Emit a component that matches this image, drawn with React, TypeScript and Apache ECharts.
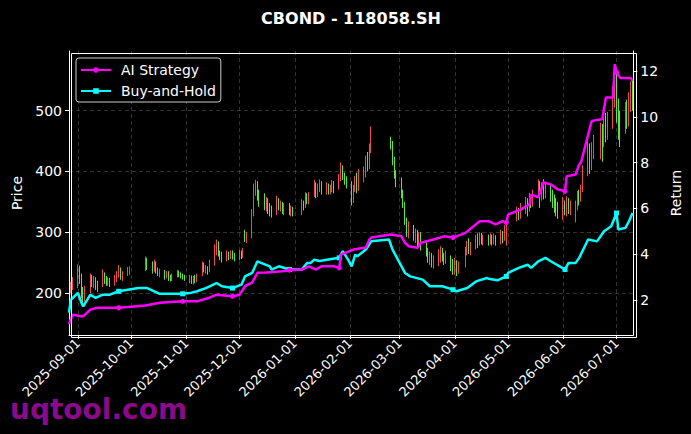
import React, { useEffect, useRef } from 'react';
import * as echarts from 'echarts';

// [date, open, close, low, high]
const candlesAugSep = [
  ['2025-08-28', 205, 212, 200, 218], ['2025-08-29', 212, 220, 205, 226],
  ['2025-09-01', 215, 240, 208, 247], ['2025-09-02', 238, 222, 215, 245], ['2025-09-03', 222, 198, 192, 232],
  ['2025-09-04', 200, 190, 184, 210], ['2025-09-05', 190, 205, 186, 212], ['2025-09-08', 205, 226, 200, 232],
  ['2025-09-09', 226, 218, 210, 230], ['2025-09-10', 216, 224, 208, 228], ['2025-09-11', 222, 214, 205, 226],
  ['2025-09-12', 214, 210, 202, 220], ['2025-09-15', 212, 232, 210, 239], ['2025-09-16', 230, 222, 215, 234],
  ['2025-09-17', 222, 218, 212, 228], ['2025-09-18', 218, 222, 212, 226], ['2025-09-19', 222, 214, 210, 225],
  ['2025-09-22', 214, 224, 212, 230], ['2025-09-23', 222, 230, 218, 236], ['2025-09-24', 230, 240, 225, 246],
  ['2025-09-25', 238, 228, 222, 242], ['2025-09-26', 228, 232, 220, 236], ['2025-09-29', 230, 238, 228, 243],
  ['2025-09-30', 236, 240, 230, 244],
];
const candlesOct = [
  ['2025-10-09', 240, 256, 236, 260], ['2025-10-10', 254, 244, 238, 258], ['2025-10-13', 246, 240, 232, 252],
  ['2025-10-14', 240, 250, 235, 255], ['2025-10-15', 248, 238, 232, 252], ['2025-10-16', 238, 232, 228, 242],
  ['2025-10-17', 232, 236, 226, 240], ['2025-10-20', 234, 228, 222, 238], ['2025-10-21', 228, 232, 224, 236],
  ['2025-10-22', 232, 226, 220, 236], ['2025-10-23', 226, 224, 219, 230], ['2025-10-24', 224, 228, 220, 232],
  ['2025-10-27', 228, 234, 226, 238], ['2025-10-28', 234, 230, 226, 237], ['2025-10-29', 230, 228, 224, 234],
  ['2025-10-30', 228, 226, 222, 232], ['2025-10-31', 226, 224, 220, 230],
];
const candlesNov = [
  ['2025-11-03', 222, 226, 216, 230], ['2025-11-04', 226, 220, 215, 229], ['2025-11-05', 220, 224, 214, 228],
  ['2025-11-06', 224, 222, 216, 230], ['2025-11-07', 222, 228, 218, 232], ['2025-11-10', 230, 246, 228, 252],
  ['2025-11-11', 246, 238, 234, 250], ['2025-11-12', 238, 240, 232, 246], ['2025-11-13', 240, 236, 230, 244],
  ['2025-11-14', 236, 250, 234, 255], ['2025-11-17', 250, 272, 245, 280], ['2025-11-18', 270, 284, 262, 288],
  ['2025-11-19', 282, 266, 260, 285], ['2025-11-20', 266, 262, 254, 270], ['2025-11-21', 262, 258, 250, 268],
  ['2025-11-24', 256, 264, 252, 270], ['2025-11-25', 264, 260, 254, 268], ['2025-11-26', 260, 266, 256, 270],
  ['2025-11-27', 266, 262, 255, 270], ['2025-11-28', 262, 258, 252, 266],
];
const candlesDec = [
  ['2025-12-01', 256, 266, 254, 271], ['2025-12-02', 264, 262, 256, 270], ['2025-12-03', 262, 270, 258, 274],
  ['2025-12-04', 302, 288, 284, 304], ['2025-12-05', 288, 296, 282, 300], ['2025-12-08', 296, 330, 290, 338],
  ['2025-12-09', 330, 372, 326, 380], ['2025-12-10', 370, 382, 360, 386], ['2025-12-11', 380, 362, 352, 384],
  ['2025-12-12', 362, 350, 342, 370], ['2025-12-15', 352, 344, 336, 364], ['2025-12-16', 344, 350, 334, 358],
  ['2025-12-17', 350, 340, 330, 356], ['2025-12-18', 340, 336, 326, 348], ['2025-12-19', 336, 332, 324, 344],
  ['2025-12-22', 332, 352, 328, 360], ['2025-12-23', 350, 344, 336, 356], ['2025-12-24', 344, 346, 334, 352],
  ['2025-12-25', 346, 338, 330, 350], ['2025-12-26', 338, 342, 328, 348], ['2025-12-29', 342, 336, 328, 348],
  ['2025-12-30', 336, 338, 326, 344], ['2025-12-31', 338, 334, 326, 342],
];
const candlesJan = [
  ['2026-01-05', 334, 348, 328, 354], ['2026-01-06', 348, 344, 336, 352], ['2026-01-07', 344, 358, 340, 366],
  ['2026-01-08', 358, 352, 346, 364], ['2026-01-09', 352, 360, 346, 366], ['2026-01-12', 362, 378, 358, 386],
  ['2026-01-13', 378, 366, 356, 382], ['2026-01-14', 366, 374, 358, 380], ['2026-01-15', 374, 380, 366, 387],
  ['2026-01-16', 380, 370, 362, 384], ['2026-01-19', 370, 376, 362, 382], ['2026-01-20', 376, 368, 362, 380],
  ['2026-01-21', 368, 372, 362, 378], ['2026-01-22', 372, 380, 366, 386], ['2026-01-23', 380, 370, 364, 384],
  ['2026-01-26', 372, 390, 370, 396], ['2026-01-27', 390, 408, 384, 415], ['2026-01-28', 406, 394, 386, 410],
  ['2026-01-29', 394, 388, 378, 398], ['2026-01-30', 388, 380, 372, 392],
];
const candlesFeb = [
  ['2026-02-02', 380, 352, 344, 384], ['2026-02-03', 352, 370, 348, 378], ['2026-02-04', 370, 384, 366, 392],
  ['2026-02-05', 384, 372, 364, 398], ['2026-02-06', 372, 392, 368, 404], ['2026-02-09', 392, 396, 382, 408],
  ['2026-02-10', 396, 420, 390, 426], ['2026-02-11', 420, 410, 400, 432], ['2026-02-12', 410, 438, 404, 446],
  ['2026-02-13', 436, 460, 430, 474], ['2026-02-24', 452, 444, 436, 457], ['2026-02-25', 444, 420, 410, 450],
  ['2026-02-26', 420, 396, 388, 424], ['2026-02-27', 396, 386, 374, 402],
];
const candlesMar = [
  ['2026-03-02', 384, 364, 356, 390], ['2026-03-03', 364, 348, 340, 370], ['2026-03-04', 346, 320, 312, 350],
  ['2026-03-05', 320, 300, 292, 324], ['2026-03-06', 300, 310, 290, 318], ['2026-03-09', 308, 296, 286, 312],
  ['2026-03-10', 296, 302, 282, 306], ['2026-03-11', 302, 290, 272, 304], ['2026-03-12', 290, 296, 276, 300],
  ['2026-03-13', 296, 284, 270, 300], ['2026-03-16', 282, 268, 260, 286], ['2026-03-17', 268, 258, 250, 274],
  ['2026-03-18', 258, 262, 246, 268], ['2026-03-19', 262, 250, 242, 266], ['2026-03-20', 250, 256, 240, 262],
  ['2026-03-23', 256, 262, 244, 272], ['2026-03-24', 262, 270, 250, 277], ['2026-03-25', 270, 260, 252, 274],
  ['2026-03-26', 260, 256, 246, 266], ['2026-03-27', 256, 262, 248, 270], ['2026-03-30', 260, 248, 236, 262],
  ['2026-03-31', 248, 240, 230, 256],
];
const candlesApr = [
  ['2026-04-01', 240, 252, 230, 258], ['2026-04-02', 250, 240, 228, 254], ['2026-04-03', 240, 246, 232, 252],
  ['2026-04-07', 246, 270, 242, 276], ['2026-04-08', 270, 280, 262, 286], ['2026-04-09', 280, 270, 264, 290],
  ['2026-04-10', 270, 278, 262, 284], ['2026-04-13', 278, 290, 272, 296], ['2026-04-14', 290, 282, 274, 298],
  ['2026-04-15', 282, 294, 278, 300], ['2026-04-16', 294, 286, 280, 299], ['2026-04-17', 286, 292, 278, 296],
  ['2026-04-20', 290, 284, 278, 296], ['2026-04-21', 284, 292, 280, 298], ['2026-04-22', 292, 286, 278, 296],
  ['2026-04-23', 286, 290, 280, 298], ['2026-04-24', 290, 284, 278, 295], ['2026-04-27', 286, 296, 280, 304],
  ['2026-04-28', 296, 290, 282, 302], ['2026-04-29', 290, 306, 286, 312], ['2026-04-30', 300, 314, 278, 320],
];
const candlesMay = [
  ['2026-05-06', 320, 334, 318, 342], ['2026-05-07', 334, 328, 320, 340], ['2026-05-08', 328, 340, 322, 348],
  ['2026-05-11', 340, 350, 330, 358], ['2026-05-12', 350, 338, 326, 356], ['2026-05-13', 338, 356, 334, 365],
  ['2026-05-14', 356, 348, 340, 362], ['2026-05-15', 348, 362, 342, 370], ['2026-05-18', 364, 380, 358, 387],
  ['2026-05-19', 380, 360, 340, 384], ['2026-05-20', 360, 372, 352, 382], ['2026-05-21', 372, 364, 354, 387],
  ['2026-05-22', 364, 372, 356, 380], ['2026-05-25', 372, 362, 350, 378], ['2026-05-26', 362, 356, 340, 370],
  ['2026-05-27', 356, 348, 332, 362], ['2026-05-28', 348, 340, 326, 356], ['2026-05-29', 340, 336, 322, 350],
];
const candlesJun = [
  ['2026-06-01', 334, 350, 320, 358], ['2026-06-02', 348, 340, 328, 352], ['2026-06-03', 340, 356, 326, 359],
  ['2026-06-04', 350, 340, 330, 356], ['2026-06-05', 340, 344, 328, 352], ['2026-06-08', 334, 348, 316, 352],
  ['2026-06-09', 348, 362, 336, 368], ['2026-06-10', 362, 356, 344, 370], ['2026-06-11', 356, 374, 350, 378],
  ['2026-06-12', 374, 400, 366, 410], ['2026-06-15', 400, 440, 392, 456], ['2026-06-16', 440, 410, 396, 446],
  ['2026-06-17', 410, 434, 402, 448], ['2026-06-18', 434, 452, 420, 460], ['2026-06-22', 450, 470, 420, 480],
  ['2026-06-23', 470, 450, 416, 478], ['2026-06-24', 450, 478, 440, 490], ['2026-06-25', 478, 460, 448, 496],
  ['2026-06-26', 460, 488, 452, 498], ['2026-06-29', 488, 520, 470, 540], ['2026-06-30', 520, 545, 505, 575],
];
const candlesJul = [
  ['2026-07-01', 545, 510, 480, 560], ['2026-07-02', 510, 490, 452, 520], ['2026-07-03', 490, 470, 440, 500],
  ['2026-07-06', 470, 500, 462, 514], ['2026-07-07', 500, 482, 470, 518], ['2026-07-08', 482, 512, 474, 530],
  ['2026-07-09', 512, 530, 498, 548], ['2026-07-10', 530, 516, 500, 552],
];

const aiStrategy = [
  ['2025-08-27', 0.95], ['2025-08-29', 1.36], ['2025-09-02', 1.30], ['2025-09-04', 1.28], ['2025-09-08', 1.58],
  ['2025-09-12', 1.66], ['2025-09-24', 1.66], ['2025-10-09', 1.76], ['2025-10-17', 1.88], ['2025-10-30', 1.94],
  ['2025-11-07', 1.94], ['2025-11-14', 2.10], ['2025-11-18', 2.23], ['2025-11-27', 2.16], ['2025-12-01', 2.23],
  ['2025-12-04', 2.60], ['2025-12-08', 2.76], ['2025-12-11', 3.19], ['2025-12-16', 3.20], ['2025-12-25', 3.25],
  ['2025-12-29', 3.30], ['2026-01-05', 3.33], ['2026-01-09', 3.47], ['2026-01-13', 3.33], ['2026-01-16', 3.47],
  ['2026-01-23', 3.47], ['2026-01-26', 3.40], ['2026-01-27', 3.98], ['2026-02-03', 4.20], ['2026-02-10', 4.29],
  ['2026-02-12', 4.64], ['2026-02-13', 4.73], ['2026-02-24', 4.86], ['2026-03-02', 4.78], ['2026-03-04', 4.50],
  ['2026-03-06', 4.35], ['2026-03-11', 4.28], ['2026-03-13', 4.50], ['2026-03-20', 4.64], ['2026-03-26', 4.78],
  ['2026-03-31', 4.73], ['2026-04-02', 4.78], ['2026-04-07', 4.93], ['2026-04-15', 5.44], ['2026-04-20', 5.44],
  ['2026-04-24', 5.30], ['2026-04-28', 5.44], ['2026-04-30', 5.38], ['2026-05-01', 5.73], ['2026-05-08', 5.95],
  ['2026-05-13', 6.17], ['2026-05-14', 6.60], ['2026-05-18', 6.48], ['2026-05-21', 7.13], ['2026-05-25', 7.05],
  ['2026-05-29', 6.83], ['2026-06-02', 6.75], ['2026-06-03', 7.41], ['2026-06-08', 7.48], ['2026-06-10', 7.92],
  ['2026-06-11', 8.00], ['2026-06-17', 9.82], ['2026-06-23', 9.90], ['2026-06-25', 10.84], ['2026-06-29', 10.84],
  ['2026-06-30', 12.30], ['2026-07-01', 11.95], ['2026-07-03', 11.70], ['2026-07-09', 11.70], ['2026-07-10', 11.57],
];
const buyAndHold = [
  ['2025-08-27', 1.44], ['2025-08-28', 2.00], ['2025-09-01', 2.31], ['2025-09-03', 1.88], ['2025-09-04', 1.72],
  ['2025-09-08', 2.23], ['2025-09-11', 2.09], ['2025-09-15', 2.23], ['2025-09-19', 2.23], ['2025-09-24', 2.38],
  ['2025-10-05', 2.52], ['2025-10-10', 2.52], ['2025-10-14', 2.38], ['2025-10-17', 2.27], ['2025-10-30', 2.27],
  ['2025-11-03', 2.30], ['2025-11-07', 2.38], ['2025-11-12', 2.52], ['2025-11-18', 2.74], ['2025-11-21', 2.60],
  ['2025-11-27', 2.52], ['2025-12-02', 2.67], ['2025-12-04', 3.03], ['2025-12-08', 3.18], ['2025-12-11', 3.69],
  ['2025-12-13', 3.62], ['2025-12-18', 3.47], ['2025-12-19', 3.33], ['2025-12-23', 3.47], ['2025-12-29', 3.33],
  ['2026-01-05', 3.33], ['2026-01-08', 3.62], ['2026-01-10', 3.62], ['2026-01-12', 3.76], ['2026-01-15', 3.70],
  ['2026-01-19', 3.76], ['2026-01-26', 3.84], ['2026-01-28', 4.13], ['2026-01-31', 3.76], ['2026-02-02', 3.47],
  ['2026-02-04', 3.98], ['2026-02-05', 3.90], ['2026-02-10', 4.20], ['2026-02-13', 4.56], ['2026-02-23', 4.64],
  ['2026-02-25', 4.20], ['2026-03-01', 3.62], ['2026-03-04', 3.18], ['2026-03-07', 3.03], ['2026-03-14', 2.89],
  ['2026-03-18', 2.60], ['2026-03-25', 2.60], ['2026-03-31', 2.45], ['2026-04-02', 2.38], ['2026-04-08', 2.52],
  ['2026-04-13', 2.81], ['2026-04-19', 2.96], ['2026-04-20', 2.93], ['2026-04-25', 2.86], ['2026-04-30', 3.03],
  ['2026-05-01', 3.18], ['2026-05-07', 3.40], ['2026-05-12', 3.54], ['2026-05-14', 3.40], ['2026-05-18', 3.69],
  ['2026-05-22', 3.84], ['2026-05-25', 3.69], ['2026-05-30', 3.47], ['2026-06-02', 3.33], ['2026-06-04', 3.62],
  ['2026-06-08', 3.62], ['2026-06-10', 3.84], ['2026-06-15', 4.64], ['2026-06-20', 4.56], ['2026-06-24', 5.00],
  ['2026-06-28', 5.22], ['2026-07-01', 5.80], ['2026-07-02', 5.08], ['2026-07-06', 5.15], ['2026-07-08', 5.44],
  ['2026-07-10', 5.80],
];

const markerDates = [
  '2025-09-24', '2025-10-30', '2025-11-27', '2025-12-29', '2026-01-26',
  '2026-03-31', '2026-04-30', '2026-06-02', '2026-07-01',
];

const xTickLabels = [
  '2025-09-01', '2025-10-01', '2025-11-01', '2025-12-01', '2026-01-01', '2026-02-01',
  '2026-03-01', '2026-04-01', '2026-05-01', '2026-06-01', '2026-07-01',
];
const priceTicks = [200, 300, 400, 500];
const returnTicks = [2, 4, 6, 8, 10, 12];

const FONT = 'DejaVu Sans';
const RED = '#f24a4a';
const GREEN = '#5ee63a';
const MAGENTA = '#ff00ff';
const CYAN = '#00ffff';

function toTime(s: string, h = 0): number {
  const [y, m, d] = s.split('-').map(Number);
  return new Date(y, m - 1, d, h).getTime();
}
function fmt(t: number): string {
  const d = new Date(t);
  const p = (n: number) => String(n).padStart(2, '0');
  return `${d.getFullYear()}-${p(d.getMonth() + 1)}-${p(d.getDate())}`;
}

export default function App() {
  const ref = useRef<HTMLDivElement>(null);
  useEffect(() => {
    document.body.style.margin = '0';
    document.body.style.background = '#000';
    const chart = echarts.init(ref.current!, null, { renderer: 'svg' });
    const candles = [
      ...candlesAugSep, ...candlesOct, ...candlesNov, ...candlesDec, ...candlesJan,
      ...candlesFeb, ...candlesMar, ...candlesApr, ...candlesMay, ...candlesJun, ...candlesJul,
    ].map((r) => [toTime(r[0] as string), r[1], r[2], r[3], r[4]]);
    const aiData = aiStrategy.map((r) => [toTime(r[0] as string), r[1]]);
    const bhData = buyAndHold.map((r) => [toTime(r[0] as string), r[1]]);
    const markerSet = new Set(markerDates);
    const xTicks = xTickLabels.map((s) => toTime(s));
    const gridLine = { show: true, lineStyle: { color: 'rgba(140,140,140,0.45)', width: 0.8, type: [4, 3] as any } };
    const option: any = {
      animation: false,
      backgroundColor: '#000',
      textStyle: { fontFamily: FONT },
      grid: { left: 69, right: 57, top: 51, bottom: 99, containLabel: false },
      legend: {
        orient: 'vertical', left: 76, top: 58,
        data: ['AI Strategy', 'Buy-and-Hold'],
        itemWidth: 30, itemHeight: 7, itemGap: 7,
        padding: [5, 5, 4, 4],
        backgroundColor: '#000', borderColor: '#cccccc', borderWidth: 1, borderRadius: 3,
        textStyle: { color: '#fff', fontSize: 14, fontFamily: FONT, padding: [0, 0, 0, 5] },
      },
      xAxis: {
        type: 'value',
        min: toTime('2025-08-27'),
        max: toTime('2026-07-10', 10),
        axisLine: { show: true, onZero: false, lineStyle: { color: '#fff', width: 1 } },
        axisTick: { show: true, length: 4, lineStyle: { color: '#fff' }, customValues: xTicks },
        axisLabel: {
          color: '#fff', fontSize: 13, fontFamily: FONT, rotate: 45, margin: 6,
          customValues: xTicks,
          formatter: (v: number) => fmt(v),
        },
        splitLine: gridLine,
      },
      yAxis: [
        {
          type: 'value', min: 131, max: 598, position: 'left',
          name: 'Price', nameLocation: 'middle', nameGap: 42, nameRotate: 90,
          nameTextStyle: { color: '#fff', fontSize: 14, fontFamily: FONT },
          axisLine: { show: true, lineStyle: { color: '#fff' } },
          axisTick: { show: true, length: 4, lineStyle: { color: '#fff' }, customValues: priceTicks },
          axisLabel: { color: '#fff', fontSize: 14, fontFamily: FONT, margin: 7, customValues: priceTicks },
          splitLine: gridLine,
        },
        {
          type: 'value', min: 0.47, max: 12.875, position: 'right',
          name: 'Return', nameLocation: 'middle', nameGap: 30, nameRotate: 90,
          nameTextStyle: { color: '#fff', fontSize: 14, fontFamily: FONT },
          axisLine: { show: true, lineStyle: { color: '#fff' } },
          axisTick: { show: true, length: 4, lineStyle: { color: '#fff' }, customValues: returnTicks },
          axisLabel: { color: '#fff', fontSize: 14, fontFamily: FONT, margin: 7, customValues: returnTicks },
          splitLine: { show: false },
        },
      ],
      series: [
        {
          type: 'candlestick',
          data: candles,
          encode: { x: 0, y: [1, 2, 3, 4] },
          barWidth: 1,
          itemStyle: { color: RED, color0: GREEN, borderColor: RED, borderColor0: GREEN, borderWidth: 1 },
          z: 2,
        },
        {
          type: 'line', name: 'AI Strategy', yAxisIndex: 1, data: aiData,
          symbol: 'circle', showSymbol: true, showAllSymbol: true,
          symbolSize: (_v: any, p: any) => (markerSet.has(aiStrategy[p.dataIndex][0] as string) ? 5 : 0),
          lineStyle: { color: MAGENTA, width: 2.5 }, itemStyle: { color: MAGENTA },
          z: 4,
        },
        {
          type: 'line', name: 'Buy-and-Hold', yAxisIndex: 1, data: bhData,
          symbol: 'rect', showSymbol: true, showAllSymbol: true,
          symbolSize: (_v: any, p: any) => (markerSet.has(buyAndHold[p.dataIndex][0] as string) ? 5 : 0),
          lineStyle: { color: CYAN, width: 2.5 }, itemStyle: { color: CYAN },
          z: 3,
        },
      ],
      graphic: [
        {
          type: 'rect', left: 69, top: 51, z: 100, silent: true,
          shape: { x: 0, y: 0, width: 565, height: 284 },
          style: { fill: 'none', stroke: '#fff', lineWidth: 1 },
        },
        {
          type: 'text', x: 351, y: 18, z: 100,
          style: {
            text: 'CBOND - 118058.SH', fill: '#fff', font: `bold 16px "${FONT}"`,
            textAlign: 'center', textVerticalAlign: 'middle',
          },
        },
        {
          type: 'text', x: 10, y: 409, z: 100,
          style: {
            text: 'uqtool.com', fill: '#8b0a8b', font: `bold 28px "${FONT}"`,
            textAlign: 'left', textVerticalAlign: 'middle',
          },
        },
      ],
    };
    chart.setOption(option);
    return () => chart.dispose();
  }, []);
  return (
    <div
      ref={ref}
      style={{ position: 'fixed', left: 0, top: 0, width: 691, height: 434, background: '#000' }}
    />
  );
}
